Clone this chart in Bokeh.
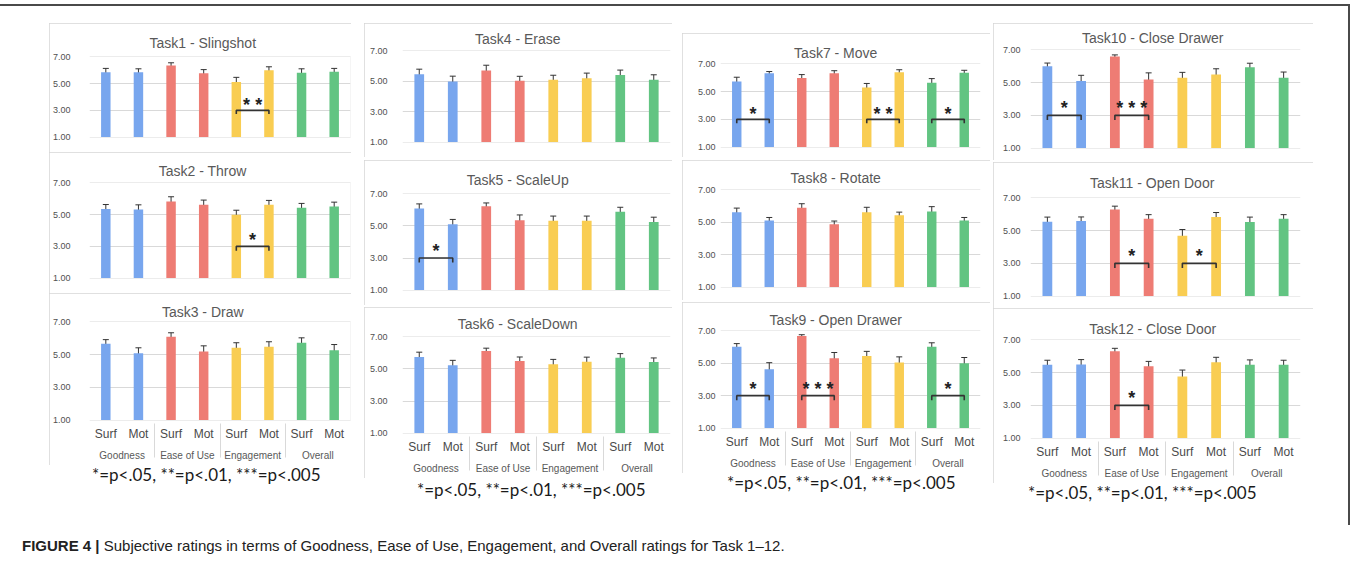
from bokeh.plotting import figure
from bokeh.models import (ColumnDataSource, FactorRange, Range1d, FixedTicker,
                          NumeralTickFormatter, Whisker, Div)
from bokeh.layouts import column, row
from bokeh.embed import file_html
from bokeh.resources import INLINE
from bokeh.core.properties import value

# ---------------- data ----------------
groups = ["Goodness", "Ease of Use", "Engagement", "Overall"]
conditions = ["Surf", "Mot"]
tick_values = [1, 3, 5, 7]

titles = ["Task1 - Slingshot", "Task2 - Throw", "Task3 - Draw",
          "Task4 - Erase", "Task5 - ScaleUp", "Task6 - ScaleDown",
          "Task7 - Move", "Task8 - Rotate", "Task9 - Open Drawer",
          "Task10 - Close Drawer", "Task11 - Open Door", "Task12 - Close Door"]

# order: Goodness Surf/Mot, Ease Surf/Mot, Engagement Surf/Mot, Overall Surf/Mot
means_t1 = [5.86, 5.86, 6.36, 5.77, 5.12, 6.01, 5.81, 5.89]
means_t2 = [5.36, 5.32, 5.83, 5.62, 5.00, 5.62, 5.43, 5.51]
means_t3 = [5.67, 5.09, 6.09, 5.19, 5.43, 5.49, 5.73, 5.27]
means_t4 = [5.47, 4.99, 5.71, 5.03, 5.10, 5.21, 5.41, 5.10]
means_t5 = [6.10, 5.11, 6.24, 5.36, 5.32, 5.32, 5.89, 5.25]
means_t6 = [5.75, 5.24, 6.12, 5.50, 5.30, 5.46, 5.71, 5.44]
means_t7 = [5.74, 6.33, 5.98, 6.33, 5.29, 6.40, 5.64, 6.36]
means_t8 = [5.63, 5.12, 5.90, 4.88, 5.63, 5.43, 5.67, 5.12]
means_t9 = [6.02, 4.64, 6.69, 5.32, 5.46, 5.05, 6.02, 5.01]
means_t10 = [6.00, 5.10, 6.60, 5.20, 5.30, 5.50, 5.94, 5.30]
means_t11 = [5.55, 5.59, 6.30, 5.73, 4.69, 5.83, 5.53, 5.73]
means_t12 = [5.48, 5.50, 6.31, 5.39, 4.76, 5.64, 5.48, 5.48]

errors_t1 = [0.28, 0.25, 0.20, 0.28, 0.35, 0.25, 0.30, 0.25]
errors_t2 = [0.28, 0.30, 0.30, 0.30, 0.28, 0.28, 0.28, 0.28]
errors_t3 = [0.25, 0.33, 0.25, 0.35, 0.30, 0.30, 0.30, 0.35]
errors_t4 = [0.33, 0.35, 0.35, 0.30, 0.30, 0.33, 0.33, 0.33]
errors_t5 = [0.28, 0.30, 0.20, 0.33, 0.30, 0.30, 0.28, 0.30]
errors_t6 = [0.30, 0.30, 0.18, 0.25, 0.30, 0.28, 0.25, 0.25]
errors_t7 = [0.30, 0.12, 0.25, 0.18, 0.30, 0.18, 0.30, 0.18]
errors_t8 = [0.25, 0.18, 0.25, 0.20, 0.30, 0.20, 0.30, 0.18]
errors_t9 = [0.20, 0.40, 0.08, 0.35, 0.28, 0.35, 0.25, 0.35]
errors_t10 = [0.20, 0.35, 0.10, 0.40, 0.33, 0.35, 0.25, 0.35]
errors_t11 = [0.28, 0.25, 0.20, 0.25, 0.38, 0.28, 0.30, 0.25]
errors_t12 = [0.28, 0.30, 0.18, 0.30, 0.40, 0.30, 0.30, 0.28]

means = [means_t1, means_t2, means_t3, means_t4, means_t5, means_t6,
         means_t7, means_t8, means_t9, means_t10, means_t11, means_t12]
errors = [errors_t1, errors_t2, errors_t3, errors_t4, errors_t5, errors_t6,
          errors_t7, errors_t8, errors_t9, errors_t10, errors_t11, errors_t12]

# significance brackets: (group, stars)
significance = [
    [("Engagement", "**")],
    [("Engagement", "*")],
    [],
    [],
    [("Goodness", "*")],
    [],
    [("Goodness", "*"), ("Engagement", "**"), ("Overall", "*")],
    [],
    [("Goodness", "*"), ("Ease of Use", "***"), ("Overall", "*")],
    [("Goodness", "*"), ("Ease of Use", "***")],
    [("Ease of Use", "*"), ("Engagement", "*")],
    [("Ease of Use", "*")],
]
bracket_level = 3.0
bracket_foot = 2.72
star_level = 3.42

legend_text = "*=p<.05, **=p<.01, ***=p<.005"
caption_bold = "FIGURE 4 |"
caption_rest = " Subjective ratings in terms of Goodness, Ease of Use, Engagement, and Overall ratings for Task 1\u201312."

# ---------------- styling ----------------
group_colors = {"Goodness": "#78a6ee", "Ease of Use": "#ee7c74",
                "Engagement": "#f9cd52", "Overall": "#62c482"}
TXT = "#595959"
GRID = "#d9d9d9"
FONT = "Liberation Sans"

ARIAL = {"T": 611, "a": 556, "s": 500, "k": 500, " ": 278, "-": 333, "S": 667,
         "l": 222, "i": 222, "n": 556, "g": 556, "h": 556, "o": 556, "t": 278,
         "r": 333, "w": 722, "D": 722, "E": 667, "e": 556, "c": 500, "U": 722,
         "p": 556, "R": 722, "M": 833, "v": 500, "O": 778, "C": 722, "d": 556}


def text_w(s, size):
    return sum(ARIAL.get(ch, 556) for ch in s) * size / 1000.0


# column layout specs (pixel geometry)
col_specs = [
    dict(ml=41, w=302, L=37, R=1, stand=19, tasks=[0, 1, 2], mts=[17, 0, 0],
         hs=[129, 141, 172], tops=[33, 30, 28], bots=[15, 15, 45], tc=[14, 12, 10],
         leg=(0, 43)),
    dict(ml=13, w=308, L=38, R=2, stand=15, tasks=[3, 4, 5], mts=[17, 3, 2],
         hs=[134, 145, 171], tops=[27, 33, 29], bots=[15, 15, 45], tc=[12, 14, 13],
         leg=(2, 53)),
    dict(ml=10, w=308, L=38, R=10, stand=5, tasks=[6, 7, 8], mts=[27, 3, 2],
         hs=[124, 140, 171], tops=[30, 29, 28], bots=[10, 13, 45], tc=[11, 12, 11],
         leg=(0, 45)),
    dict(ml=3, w=320, L=37, R=13, stand=10, tasks=[9, 10, 11], mts=[17, 2, 0],
         hs=[137, 146, 175], tops=[25, 35, 31], bots=[12, 12, 45], tc=[12, 15, 11],
         leg=(0, 35)),
]


def make_panel(t, spec, k):
    show_x = (k == 2)
    factors = [(g, c) for g in groups for c in conditions]
    W, H = spec["w"], spec["hs"][k]
    L, R = spec["L"], spec["R"]
    p = figure(x_range=FactorRange(factors=factors, factor_padding=0, group_padding=0,
                                   range_padding=0),
               y_range=Range1d(0.97, 7.03), width=W, height=H,
               toolbar_location=None, output_backend="svg",
               min_border_left=L, min_border_right=R,
               min_border_top=spec["tops"][k], min_border_bottom=spec["bots"][k],
               title=titles[t],
               styles={"outline": "1px solid #d6d6d6", "outline-offset": "-1px"},
               margin=(spec["mts"][k], 0, 0, 0))
    p.outline_line_color = None
    p.background_fill_color = "white"
    p.border_fill_color = "white"

    # title, centred on the whole panel box
    size = 14
    tw = text_w(titles[t], size)
    p.title.align = "left"
    p.title.offset = (W / 2.0 - L) - tw / 2.0
    p.title.text_font = FONT
    p.title.text_font_size = f"{size}px"
    p.title.text_font_style = "normal"
    p.title.text_color = TXT
    p.title.standoff = max(0, 2 * spec["tc"][k] - 16)

    # y axis
    p.yaxis.ticker = FixedTicker(ticks=tick_values)
    p.yaxis.formatter = NumeralTickFormatter(format="0.00")
    p.yaxis.axis_line_color = None
    p.yaxis.major_tick_line_color = None
    p.yaxis.minor_tick_line_color = None
    p.yaxis.major_tick_out = 0
    p.yaxis.major_tick_in = 0
    p.yaxis.major_label_standoff = spec["stand"]
    p.yaxis.major_label_text_font = FONT
    p.yaxis.major_label_text_font_size = "9px"
    p.yaxis.major_label_text_color = "#505050"
    p.ygrid.grid_line_color = GRID
    p.xgrid.grid_line_color = None

    # x axis
    if show_x:
        ax = p.xaxis[0]
        ax.axis_line_color = None
        ax.major_tick_line_color = None
        ax.minor_tick_line_color = None
        ax.major_tick_out = 0
        ax.major_label_standoff = 6
        ax.major_label_text_font = FONT
        ax.major_label_text_font_size = "12px"
        ax.major_label_text_color = "#4a4a4a"
        ax.group_text_font = FONT
        ax.group_text_font_size = "10px"
        ax.group_text_font_style = "normal"
        ax.group_text_color = TXT
        ax.separator_line_color = GRID
        ax.separator_line_width = 1
    else:
        p.xaxis.visible = False

    m = means[t]
    e = errors[t]
    src = ColumnDataSource(dict(
        x=factors,
        mean=m,
        upper=[a + b for a, b in zip(m, e)],
        lower=[a - b for a, b in zip(m, e)],
        color=[group_colors[g] for g, _ in factors],
    ))
    p.vbar(x="x", top="mean", bottom=tick_values[0], width=0.29,
           fill_color="color", line_color=None, source=src)
    w = Whisker(base="x", upper="upper", lower="lower", source=src,
                line_color="#333333", line_width=1)
    w.upper_head.size = 6
    w.lower_head.size = 6
    w.upper_head.line_color = "#333333"
    w.lower_head.line_color = "#333333"
    p.add_layout(w)

    sig = significance[t]
    if sig:
        xs = [[(g, "Surf"), (g, "Surf"), (g, "Mot"), (g, "Mot")] for g, _ in sig]
        ys = [[bracket_foot, bracket_level, bracket_level, bracket_foot] for _ in sig]
        p.multi_line(xs=xs, ys=ys, line_color="#333333", line_width=1.6)
        p.text(x=[g for g, _ in sig], y=[star_level] * len(sig),
               text=[" ".join(s) for _, s in sig],
               text_align="center", text_baseline="middle",
               text_font=value(FONT), text_font_style="bold",
               text_font_size="18px", text_color="#222222")
    return p


columns = []
for spec in col_specs:
    kids = [make_panel(t, spec, k) for k, t in enumerate(spec["tasks"])]
    lt, ll = spec["leg"]
    kids.append(Div(text=legend_text, width=spec["w"] - ll, height=22,
                    margin=(lt, 0, 0, ll),
                    styles={"font-family": "Lato", "font-size": "17px",
                            "color": "#1a1a1a", "white-space": "nowrap",
                            "line-height": "20px"}))
    columns.append(column(*kids, spacing=0, margin=(0, 0, 0, spec["ml"])))

right_line = Div(text="", width=2, height=519, margin=(0, 0, 0, 35),
                 styles={"background-color": "#4a4a4a"})
main_row = row(*columns, right_line, spacing=0, margin=(0, 0, 0, 8))

top_line = Div(text="", width=1350, height=2, margin=(4, 0, 0, 0),
               styles={"background-color": "#4a4a4a"})

caption = Div(text=f"<b>{caption_bold}</b>{caption_rest}", width=1320, height=20,
              margin=(11, 0, 0, 22),
              styles={"font-family": FONT, "font-size": "15px", "color": "#222222",
                      "white-space": "nowrap", "line-height": "20px"})

p = column(top_line, main_row, caption, spacing=0)

open("out.html", "w").write(file_html(p, INLINE))
